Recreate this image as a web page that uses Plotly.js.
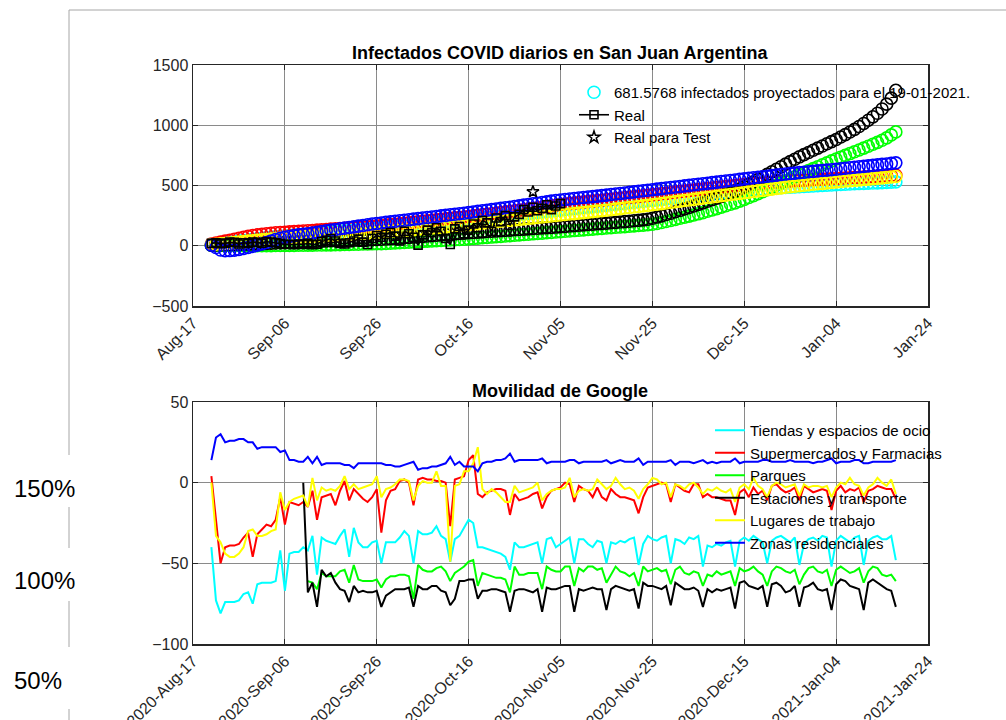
<!DOCTYPE html>
<html><head><meta charset="utf-8">
<script src="https://cdn.plot.ly/plotly-3.0.1.min.js"></script>
<style>html,body{margin:0;padding:0;background:#fff;} #chart{width:1006px;height:720px;}</style>
</head><body><div id="chart"></div><script>
// ---------- tick labels ----------
const tickFechas = ['2020-08-17','2020-09-06','2020-09-26','2020-10-16','2020-11-05','2020-11-25','2020-12-15','2021-01-04','2021-01-24'];
const tickArriba = ['Aug-17','Sep-06','Sep-26','Oct-16','Nov-05','Nov-25','Dec-15','Jan-04','Jan-24'];
const tickAbajo = ['2020-Aug-17','2020-Sep-06','2020-Sep-26','2020-Oct-16','2020-Nov-05','2020-Nov-25','2020-Dec-15','2021-Jan-04','2021-Jan-24'];

// ---------- projections (daily, 2020-08-21 .. 2021-01-17) ----------
const inicioSerie = '2020-08-21';
const proyCian = [10,14,18,23,28,33,38,43,48,53,
57,62,66,70,74,78,81,85,88,91,
95,98,101,105,108,111,115,118,121,125,
128,131,135,138,141,145,148,151,155,158,
161,165,168,171,175,178,182,185,189,192,
196,199,203,206,210,213,217,221,225,229,
233,237,241,245,249,253,257,261,265,269,
273,277,281,285,289,293,297,301,305,309,
313,317,321,325,329,333,337,341,345,349,
353,357,361,365,369,373,377,381,385,389,
393,397,401,405,409,413,417,421,425,429,
433,437,441,445,449,453,457,460,463,466,
469,472,475,478,481,484,486,488,490,492,
494,496,498,500,502,504,506,508,510,512,
514,516,518,520,521,522,524,526,528,530];
const proyRojo = [15,22,30,38,46,54,62,70,78,85,
90,95,100,104,108,110,112,115,117,120,
122,125,127,130,132,135,138,140,143,145,
148,150,153,155,158,160,163,167,171,175,
179,183,187,191,195,199,203,207,211,215,
219,223,227,231,235,239,243,248,252,257,
261,266,270,275,279,284,289,294,299,304,
309,314,320,325,331,336,342,346,350,354,
358,362,366,370,374,378,382,386,390,394,
398,402,406,410,414,418,422,426,431,435,
440,444,449,453,458,462,467,471,475,479,
483,487,491,495,499,503,507,510,514,517,
520,523,526,529,532,535,538,540,542,544,
546,548,550,552,554,556,558,560,562,564,
566,568,570,572,574,576,578,580,582,585];
const proyVerde = [5,4,3,3,2,2,2,1,1,1,
1,1,1,1,2,2,2,3,3,4,
4,5,5,6,6,7,7,8,9,10,
11,12,13,14,15,16,17,18,20,22,
24,26,28,30,32,34,36,38,40,42,
44,46,48,50,52,54,57,60,63,66,
69,72,75,78,81,84,87,90,93,96,
99,102,105,108,111,114,117,120,123,126,
129,132,135,138,141,144,147,150,153,156,
159,162,165,168,171,174,178,185,193,201,
210,219,228,237,246,255,265,275,286,297,
308,320,332,344,356,370,385,400,416,432,
448,466,484,502,520,538,556,573,590,607,
624,640,656,672,688,704,720,735,750,765,
780,795,810,826,842,858,875,895,920,945];
const proyNegro = [5,6,7,8,9,10,11,12,13,14,
15,17,19,21,23,25,27,29,30,32,
33,35,36,37,38,40,41,42,43,44,
45,46,47,48,49,50,52,54,56,58,
60,63,66,69,72,75,78,81,84,87,
90,93,96,99,102,105,108,110,113,115,
118,120,123,125,128,130,133,135,138,140,
143,145,148,150,152,155,158,161,164,167,
170,173,176,179,182,185,188,191,194,197,
200,203,207,211,215,220,228,238,248,259,
270,282,294,306,318,330,343,356,369,382,
395,410,425,440,455,470,490,510,530,550,
570,592,614,635,656,677,698,718,738,756,
774,792,810,828,846,864,882,902,922,944,
966,990,1015,1042,1070,1100,1135,1175,1225,1290];
const proyAmarillo = [10,13,16,19,22,26,30,34,38,42,
46,49,52,55,58,61,64,67,70,72,
74,76,78,80,82,84,86,88,91,93,
95,98,100,103,105,108,110,113,116,119,
122,125,128,131,134,137,140,143,147,150,
154,157,161,164,168,171,175,179,183,187,
191,195,199,203,207,211,215,219,223,227,
231,235,239,243,247,251,255,259,263,267,
271,275,279,283,287,291,295,299,304,308,
313,317,322,326,331,335,340,345,350,355,
360,365,370,375,380,385,390,395,400,405,
410,415,420,425,430,435,440,445,450,455,
460,465,470,475,480,485,490,494,498,502,
506,510,514,518,522,526,530,533,537,540,
543,547,550,553,557,560,563,567,571,575];
const proyAzul = [5,-15,-35,-42,-40,-36,-30,-22,-14,-5,
5,15,27,40,52,62,70,77,84,90,
95,100,106,112,118,124,130,135,141,146,
152,157,163,168,174,180,185,189,194,198,
203,207,212,216,221,225,230,234,239,243,
248,252,257,261,266,270,275,280,285,290,
295,300,305,310,315,320,326,331,337,342,
348,353,359,364,370,375,380,384,388,392,
396,400,404,408,412,416,420,425,429,434,
438,443,447,452,456,461,465,470,474,479,
483,488,492,497,501,506,510,515,519,524,
528,533,537,542,546,551,555,560,564,568,
573,577,582,586,591,595,600,603,607,610,
614,617,621,624,628,631,635,639,643,647,
651,655,659,663,667,671,675,679,684,688];

// ---------- real cases (daily from 2020-08-21) ----------
const realCasos = [20,25,18,22,30,28,15,25,20,30,
28,22,35,30,25,18,10,12,8,15,
10,20,8,12,35,45,60,40,20,15,
25,40,55,30,10,60,85,70,95,110,
80,40,120,100,70,5,90,130,110,150,
120,60,10,140,160,100,130,180,150,210,
190,120,230,200,250,170,240,260,300,280,
320,290,310,340,300,330,350];
const testFechas = ['2020-10-30'];
const testCasos = [448];

// ---------- Google mobility (daily from 2020-08-21) ----------
const movTiendas = [-40,-73,-81,
-74,-74,-74,-73,-69,-68,-75,
-63,-62,-62,-62,-61,-42,-67,
-44,-43,-43,-40,-42,-33,-57,
-34,-36,-37,-38,-33,-29,-46,
-28,-37,-40,-40,-37,-36,-50,
-37,-37,-37,-34,-30,-33,-50,
-30,-32,-32,-31,-27,-33,-35,
-49,-35,-33,-28,-23,-25,-40,
-40,-41,-42,-43,-44,-46,-54,
-37,-40,-40,-39,-38,-37,-50,
-35,-34,-40,-38,-36,-34,-50,
-35,-35,-38,-40,-36,-37,-50,
-37,-38,-36,-37,-35,-34,-51,
-38,-33,-35,-36,-34,-33,-50,
-35,-36,-38,-34,-35,-33,-52,
-39,-40,-38,-39,-37,-36,-52,
-36,-34,-36,-33,-35,-37,-50,
-36,-34,-33,-35,-37,-34,-51,
-38,-35,-34,-36,-33,-34,-52,
-36,-33,-35,-37,-34,-33,-51,
-36,-34,-33,-35,-35,-33,-48];
const movSuper = [4,-23,-50,
-40,-39,-39,-38,-34,-31,-46,
-32,-29,-26,-27,-23,-9,-26,
-12,-13,-14,-12,-15,-5,-23,
-9,-8,-7,-14,-5,1,-11,
-4,-7,-10,-12,-9,-4,-31,
-11,-5,-4,1,2,0,-14,
2,3,2,2,1,1,0,
-27,2,3,4,14,17,-7,
-9,-6,-5,-4,-4,-5,-20,
-7,-11,-10,-9,-7,-6,-16,
-9,-5,-4,-3,0,-1,-12,
-2,-4,-5,-9,-3,-9,-11,
-4,-7,-9,-9,-10,-11,-19,
-9,-3,-2,-1,0,-1,-12,
-1,-3,-5,-6,-1,-1,-9,
-7,-9,-9,-10,-11,-11,-20,
-6,-4,-9,-3,-7,-5,-11,
-2,-1,-4,-6,-5,-3,-11,
-2,-4,-6,-5,-4,-5,-17,
-5,-2,-6,-4,-5,-3,-12,
-5,-4,-2,-3,-4,-4,-10];
const movParques = [null,null,null,
null,null,null,null,null,null,null,
null,null,null,null,null,null,null,
null,null,null,null,-61,-62,-66,
-56,-58,-58,-58,-55,-54,-62,
-51,-60,-61,-61,-61,-60,-65,
-60,-58,-58,-57,-57,-58,-72,
-51,-54,-55,-55,-53,-52,-55,
-61,-56,-54,-52,-49,-48,-64,
-56,-57,-58,-59,-59,-60,-68,
-52,-57,-57,-56,-56,-56,-66,
-52,-54,-55,-55,-52,-52,-64,
-53,-55,-52,-52,-54,-53,-62,
-57,-52,-55,-56,-58,-56,-64,
-52,-55,-54,-53,-55,-54,-63,
-54,-52,-56,-57,-55,-56,-64,
-57,-58,-55,-57,-56,-55,-64,
-53,-55,-54,-52,-55,-57,-64,
-55,-52,-53,-55,-56,-54,-63,
-57,-53,-52,-55,-56,-54,-64,
-54,-52,-54,-56,-55,-53,-62,
-55,-52,-53,-57,-58,-57,-61];
const movEstaciones = [null,null,null,
null,null,null,null,null,null,null,
null,null,null,null,null,null,null,
null,null,null,0,-68,-62,-77,
-54,-58,-56,-62,-66,-67,-74,
-64,-68,-67,-68,-68,-67,-77,
-70,-68,-66,-66,-66,-65,-77,
-64,-66,-66,-64,-64,-67,-68,
-76,-72,-61,-61,-60,-60,-72,
-67,-67,-66,-66,-67,-68,-80,
-67,-66,-66,-67,-68,-66,-80,
-65,-66,-66,-65,-64,-64,-80,
-66,-67,-66,-65,-66,-66,-79,
-66,-64,-65,-66,-67,-66,-78,
-62,-64,-64,-65,-66,-64,-76,
-62,-64,-66,-66,-65,-67,-77,
-66,-68,-66,-67,-66,-65,-78,
-62,-61,-64,-65,-66,-64,-77,
-63,-62,-64,-68,-67,-64,-77,
-65,-64,-62,-66,-67,-66,-79,
-63,-60,-61,-64,-65,-66,-79,
-62,-60,-62,-64,-66,-67,-77];
const movLugares = [0,-33,-37,
-44,-46,-46,-44,-40,-30,-29,
-33,-33,-32,-30,-29,-6,-17,
-12,-10,-9,-8,-15,3,-11,
-3,-5,-4,-5,-2,4,-4,
-1,-4,-3,-2,-1,4,-9,
-4,-3,-1,2,2,1,-11,
-2,1,0,0,7,-2,-2,
-49,-2,-1,7,7,12,22,
-4,-7,-4,-6,-9,-12,-12,
-2,-6,-5,-4,-3,0,-11,
-7,-5,-4,-4,-3,3,-9,
-5,-4,-5,-4,2,-1,-4,
-2,3,-1,-4,-3,-5,-10,
-4,-1,3,2,-1,0,-9,
-1,-2,-4,-1,0,-3,-7,
-4,-5,-3,-5,-6,-4,-12,
-3,-1,-4,3,-2,-4,-9,
-2,0,-1,-3,-2,-1,-8,
-1,-3,-2,-2,-3,-2,-9,
-3,0,-1,3,-1,-2,-8,
-3,-1,3,0,-2,2,-7];
const movResidencial = [14,28,30,
25,26,26,27,27,25,25,
21,22,22,22,22,19,20,
14,14,13,13,16,12,16,
11,12,12,12,12,11,11,
9,12,12,12,12,12,12,
11,11,10,10,11,12,13,
8,9,9,10,10,11,12,
16,11,13,10,10,10,7,
12,13,13,14,14,15,18,
13,14,14,14,14,14,15,
12,13,13,13,13,14,14,
12,13,13,13,13,13,14,
12,13,14,13,13,13,15,
11,13,13,13,13,13,14,
11,13,13,13,12,13,14,
12,13,12,13,13,13,15,
12,13,13,13,13,14,14,
13,13,13,13,14,13,13,
13,13,12,13,13,14,15,
12,13,13,13,14,14,12,
12,13,13,13,13,13,14];

const nombresMov = ['Tiendas y espacios de ocio','Supermercados y Farmacias','Parques','Estaciones y transporte','Lugares de trabajo','Zonas residenciales'];
const coloresMov = ['#00ffff','#ff0000','#00ff00','#000000','#ffff00','#0000ff'];
const textoProy = '681.5768 infectados proyectados para el 19-01-2021.';

function fechas(inicio, n) {
  const p = inicio.split('-').map(Number);
  const t0 = Date.UTC(p[0], p[1]-1, p[2]);
  const out = [];
  for (let i = 0; i < n; i++) out.push(new Date(t0 + i*86400000).toISOString().slice(0,10));
  return out;
}

const xs = fechas(inicioSerie, proyAzul.length);
const xr = fechas(inicioSerie, realCasos.length);

const traces = [];
const proy = [proyCian, proyRojo, proyVerde, proyNegro, proyAmarillo, proyAzul];
proy.forEach((arr, i) => {
  traces.push({
    x: xs, y: arr, type: 'scatter', mode: 'markers', xaxis: 'x', yaxis: 'y',
    name: i === 0 ? textoProy : '', showlegend: i === 0, legend: 'legend',
    marker: {symbol: 'circle-open', size: 12, color: coloresMov[i], line: {width: 1.6, color: coloresMov[i]}},
    hoverinfo: 'skip', cliponaxis: true
  });
});
traces.push({
  x: xr, y: realCasos, type: 'scatter', mode: 'lines+markers', xaxis: 'x', yaxis: 'y',
  name: 'Real', legend: 'legend',
  line: {color: '#000', width: 1.6},
  marker: {symbol: 'square-open', size: 8, color: '#000', line: {width: 1.6, color: '#000'}},
  hoverinfo: 'skip'
});
traces.push({
  x: testFechas, y: testCasos, type: 'scatter', mode: 'markers', xaxis: 'x', yaxis: 'y',
  name: 'Real para Test', legend: 'legend',
  marker: {symbol: 'star-open', size: 9, color: '#000', line: {width: 1.5, color: '#000'}},
  hoverinfo: 'skip'
});
const mov = [movTiendas, movSuper, movParques, movEstaciones, movLugares, movResidencial];
mov.forEach((arr, i) => {
  traces.push({
    x: xs, y: arr, type: 'scatter', mode: 'lines', xaxis: 'x2', yaxis: 'y2',
    name: nombresMov[i], legend: 'legend2',
    line: {color: coloresMov[i], width: 2}, hoverinfo: 'skip'
  });
});

const W = 1006, H = 720;
const px = v => v / W;
const py = v => 1 - v / H;
const axCommon = {
  showgrid: true, gridcolor: '#8a8a8a', gridwidth: 1,
  showline: true, linecolor: '#262626', linewidth: 1.5, mirror: 'ticks',
  ticks: 'inside', ticklen: 5, tickcolor: '#262626', zeroline: false,
  tickfont: {size: 16, color: '#262626', family: 'Liberation Sans, Arial, sans-serif'}
};
const xDom = [px(193), px(928)];
const rangoX = ['2020-08-17', '2021-01-24'];

const layout = {
  width: W, height: H, margin: {l: 0, r: 0, t: 0, b: 0},
  paper_bgcolor: '#fff', plot_bgcolor: '#fff',
  font: {family: 'Liberation Sans, Arial, sans-serif', color: '#000'},
  showlegend: true,
  xaxis: Object.assign({}, axCommon, {domain: xDom, anchor: 'y', type: 'date', range: rangoX,
    tickmode: 'array', tickvals: tickFechas, ticktext: tickArriba, tickangle: -45}),
  yaxis: Object.assign({}, axCommon, {domain: [py(306), py(65)], anchor: 'x', range: [-500, 1500],
    tickmode: 'array', tickvals: [-500, 0, 500, 1000, 1500]}),
  xaxis2: Object.assign({}, axCommon, {domain: xDom, anchor: 'y2', type: 'date', range: rangoX,
    tickmode: 'array', tickvals: tickFechas, ticktext: tickAbajo, tickangle: -45}),
  yaxis2: Object.assign({}, axCommon, {domain: [py(644), py(402)], anchor: 'x2', range: [-100, 50],
    tickmode: 'array', tickvals: [-100, -50, 0, 50]}),
  legend: {x: px(574), y: py(76), xanchor: 'left', yanchor: 'top', bgcolor: 'rgba(0,0,0,0)',
    borderwidth: 0, font: {size: 15, color: '#000'}, tracegroupgap: 0},
  legend2: {x: px(710), y: py(414), xanchor: 'left', yanchor: 'top', bgcolor: 'rgba(0,0,0,0)',
    borderwidth: 0, font: {size: 15, color: '#000'}, tracegroupgap: 0},
  annotations: [
    {text: 'Infectados COVID diarios en San Juan Argentina', x: px(560), y: py(53), xref: 'paper', yref: 'paper',
      xanchor: 'center', yanchor: 'middle', showarrow: false, font: {size: 18, color: '#000', weight: 'bold'}},
    {text: 'Movilidad de Google', x: px(560), y: py(391), xref: 'paper', yref: 'paper',
      xanchor: 'center', yanchor: 'middle', showarrow: false, font: {size: 18, color: '#000', weight: 'bold'}},
    {text: '150%', x: px(12), y: py(488), xref: 'paper', yref: 'paper', xanchor: 'left', yanchor: 'middle', showarrow: false,
      font: {size: 24, color: '#000'}},
    {text: '100%', x: px(12), y: py(580), xref: 'paper', yref: 'paper', xanchor: 'left', yanchor: 'middle', showarrow: false,
      font: {size: 24, color: '#000'}},
    {text: '50%', x: px(12), y: py(680), xref: 'paper', yref: 'paper', xanchor: 'left', yanchor: 'middle', showarrow: false,
      font: {size: 24, color: '#000'}}
  ],
  shapes: [
    {type: 'line', xref: 'paper', yref: 'paper', x0: px(69), x1: 1, y0: py(10), y1: py(10), line: {color: '#a6a6a6', width: 1}},
    {type: 'line', xref: 'paper', yref: 'paper', x0: px(69), x1: px(69), y0: py(10), y1: py(455), line: {color: '#a6a6a6', width: 1}},
    {type: 'line', xref: 'paper', yref: 'paper', x0: px(69), x1: px(69), y0: py(507), y1: py(548), line: {color: '#a6a6a6', width: 1}},
    {type: 'line', xref: 'paper', yref: 'paper', x0: px(69), x1: px(69), y0: py(601), y1: py(647), line: {color: '#a6a6a6', width: 1}},
    {type: 'line', xref: 'paper', yref: 'paper', x0: px(69), x1: px(69), y0: py(709), y1: 0, line: {color: '#a6a6a6', width: 1}}
  ]
};

Plotly.newPlot('chart', traces, layout, {staticPlot: true, displayModeBar: false});
</script></body></html>
